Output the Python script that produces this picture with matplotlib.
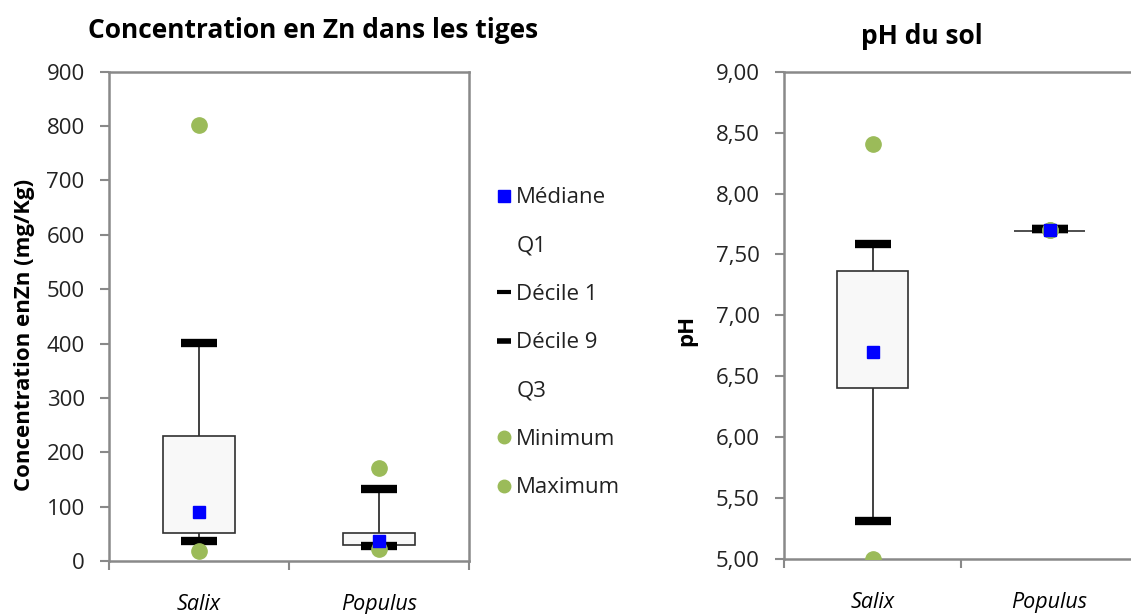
import numpy as np
import matplotlib
matplotlib.use('Agg')
import matplotlib.pyplot as plt
from matplotlib.lines import Line2D

plt.rcParams['font.family'] = ['Open Sans', 'DejaVu Sans']

species = ['Salix', 'Populus']

# Zn concentration in stems (mg/Kg)
zn_min = [19, 22]
zn_d1 = [37, 28]
zn_q1 = [51, 30]
zn_med = [91, 36]
zn_q3 = [230, 51]
zn_d9 = [401, 132]
zn_max = [802, 172]

# soil pH
ph_min = [5.00, 7.70]
ph_d1 = [5.31, 7.71]
ph_q1 = [6.40, 7.69]
ph_med = [6.70, 7.70]
ph_q3 = [7.36, 7.69]
ph_d9 = [7.585, 7.71]
ph_max = [8.41, 7.70]

green = '#9BBB59'
blue = '#0000FF'
spine_col = '#898989'
fs = 16


def draw(ax, mn, d1, q1, med, q3, d9, mx):
    x = np.arange(len(species)) + 0.5
    for i in range(len(x)):
        ax.plot([x[i], x[i]], [d1[i], q1[i]], color='#202020', lw=1.2, zorder=2)
        ax.plot([x[i], x[i]], [q3[i], d9[i]], color='#202020', lw=1.2, zorder=2)
    ax.bar(x, np.array(q3) - np.array(q1), bottom=q1, width=0.4,
           facecolor='#F8F8F8', edgecolor='#303030', lw=1.2, zorder=3)
    ax.plot(x, d1, ls='none', marker='_', ms=26, mew=6, color='black', zorder=4)
    ax.plot(x, d9, ls='none', marker='_', ms=26, mew=6, color='black', zorder=4)
    ax.plot(x, mn, ls='none', marker='o', ms=11, color=green, zorder=4)
    ax.plot(x, mx, ls='none', marker='o', ms=11, color=green, zorder=4)
    ax.plot(x, med, ls='none', marker='s', ms=9, color=blue, zorder=5)
    ax.set_xlim(0, 2)
    ax.set_xticks([0, 1, 2])
    ax.set_xticklabels([])
    ax.set_xticks(x, minor=True)
    ax.set_xticklabels(species, minor=True, style='italic', fontsize=15.5)
    ax.tick_params(axis='x', which='minor', length=0, pad=24)
    ax.tick_params(axis='x', which='major', length=6.5, color=spine_col, width=1.5)
    ax.tick_params(axis='y', length=6.5, color=spine_col, width=1.5, labelsize=fs,
                   pad=11, labelcolor='#222222')
    for s in ax.spines.values():
        s.set_color(spine_col)
        s.set_linewidth(1.8)


fig = plt.figure(figsize=(11.31, 6.14), dpi=100)

ax1 = fig.add_axes([0.0964, 0.0863, 0.3183, 0.7969])
draw(ax1, zn_min, zn_d1, zn_q1, zn_med, zn_q3, zn_d9, zn_max)
ax1.set_ylim(0, 900)
ax1.set_yticks(np.arange(0, 901, 100))
ax1.set_ylabel('Concentration enZn (mg/Kg)', fontsize=16, fontweight='bold')
ax1.yaxis.set_label_coords(-0.206, 0.462)
fig.text(0.277, 0.951, 'Concentration en Zn dans les tiges', fontsize=19,
         fontweight='bold', ha='center', va='center')

ax2 = fig.add_axes([0.6932, 0.0896, 0.313, 0.7936])
draw(ax2, ph_min, ph_d1, ph_q1, ph_med, ph_q3, ph_d9, ph_max)
ax2.set_ylim(5, 9)
ax2.set_yticks(np.arange(5, 9.01, 0.5))
ax2.set_yticklabels([('%.2f' % v).replace('.', ',') for v in np.arange(5, 9.01, 0.5)])
ax2.set_ylabel('pH', fontsize=16, fontweight='bold')
ax2.yaxis.set_label_coords(-0.246, 0.47)
fig.text(0.815, 0.940, 'pH du sol', fontsize=19, fontweight='bold',
         ha='center', va='center')

empty = Line2D([], [], ls='none', marker='none')
leg_d1 = Line2D([], [], ls='none', marker='_', ms=10, mew=3, color='black')
leg_d9 = Line2D([], [], ls='none', marker='_', ms=10, mew=4, color='black')
leg_med = Line2D([], [], ls='none', marker='s', ms=9, color=blue)
leg_min = Line2D([], [], ls='none', marker='o', ms=9, color=green)
leg_max = Line2D([], [], ls='none', marker='o', ms=9, color=green)
fig.legend([leg_med, empty, leg_d1, leg_d9, empty, leg_min, leg_max],
           ['Médiane', 'Q1', 'Décile 1', 'Décile 9', 'Q3', 'Minimum', 'Maximum'],
           loc='upper left', bbox_to_anchor=(0.428, 0.713), frameon=False,
           fontsize=fs, labelspacing=1.23, handlelength=0.8, handletextpad=0.15,
           borderpad=0, labelcolor='#222222')

fig.savefig('out.png', dpi=100)
